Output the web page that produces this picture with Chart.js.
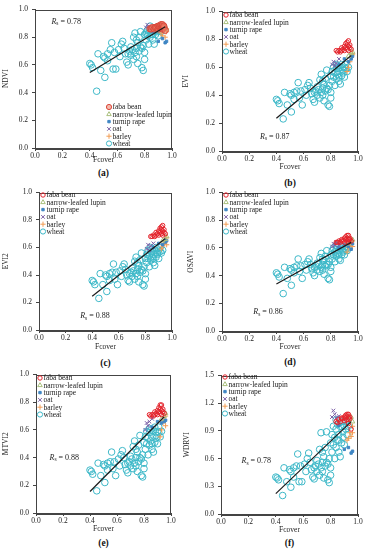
<!DOCTYPE html>
<html>
<head>
<meta charset="utf-8">
<script src="https://cdn.jsdelivr.net/npm/chart.js@4.4.0/dist/chart.umd.min.js"></script>
<style>
  body { margin: 0; background: #fff; width: 365px; height: 550px; position: relative; overflow: hidden;
         font-family: 'Liberation Serif', 'Times New Roman', serif; }
  canvas { position: absolute; }
  .lab { position: absolute; font-weight: bold; font-size: 9.5px; transform: translate(-50%, -50%); color: #111; }
</style>
</head>
<body>
<script>
// wheat samples (shared Fcover, one value per index)
const wheatF = [0.40,0.41,0.42,0.45,0.46,0.48,0.50,0.51,0.51,0.53,0.55,0.56,0.57,0.58,0.59,0.62,0.63,0.64,0.65,0.66,
  0.67,0.68,0.69,0.70,0.70,0.71,0.72,0.72,0.73,0.73,0.74,0.74,0.75,0.75,0.76,0.76,0.77,0.78,0.79,0.79,
  0.80,0.80,0.81,0.81,0.82,0.82,0.83,0.83,0.84,0.84,0.85,0.85,0.86,0.86,0.87,0.87,0.88,0.88,0.89,0.89,
  0.90,0.90,0.91,0.91,0.92,0.93,0.77,0.68,0.61,0.53,0.74,0.78,0.80,0.86,0.84];
const wheatNDVI = [0.61,0.60,0.58,0.41,0.68,0.56,0.66,0.65,0.51,0.63,0.71,0.76,0.57,0.69,0.57,0.66,0.75,0.77,0.72,0.68,
  0.62,0.60,0.70,0.73,0.67,0.71,0.64,0.80,0.69,0.83,0.72,0.66,0.61,0.76,0.80,0.70,0.84,0.58,0.56,0.74,
  0.82,0.69,0.83,0.78,0.85,0.81,0.83,0.75,0.80,0.85,0.82,0.86,0.78,0.84,0.75,0.86,0.82,0.87,0.85,0.84,
  0.86,0.81,0.85,0.87,0.84,0.86,0.73,0.68,0.71,0.68,0.78,0.72,0.64,0.82,0.88];
const wheatEVI = [0.37,0.36,0.34,0.23,0.42,0.33,0.41,0.40,0.28,0.37,0.43,0.49,0.38,0.43,0.33,0.40,0.47,0.49,0.45,0.41,
  0.37,0.35,0.43,0.46,0.40,0.44,0.38,0.51,0.42,0.55,0.45,0.40,0.36,0.48,0.52,0.43,0.58,0.33,0.32,0.47,
  0.54,0.42,0.57,0.50,0.60,0.53,0.56,0.47,0.52,0.59,0.55,0.61,0.50,0.57,0.48,0.60,0.54,0.62,0.58,0.56,
  0.60,0.53,0.59,0.62,0.57,0.60,0.45,0.42,0.44,0.42,0.50,0.44,0.38,0.53,0.62];
const wheatEVI2 = [0.36,0.35,0.33,0.23,0.41,0.33,0.40,0.39,0.28,0.36,0.42,0.48,0.37,0.42,0.33,0.39,0.46,0.48,0.44,0.40,
  0.36,0.35,0.42,0.45,0.39,0.43,0.37,0.50,0.41,0.53,0.44,0.39,0.35,0.47,0.51,0.42,0.56,0.33,0.32,0.46,
  0.52,0.41,0.55,0.49,0.58,0.52,0.54,0.46,0.51,0.57,0.53,0.59,0.49,0.55,0.47,0.58,0.53,0.60,0.56,0.55,
  0.58,0.52,0.57,0.60,0.56,0.58,0.44,0.41,0.43,0.41,0.49,0.43,0.37,0.52,0.60];
const wheatOSAVI = [0.42,0.41,0.39,0.27,0.46,0.38,0.45,0.44,0.33,0.42,0.47,0.52,0.43,0.47,0.38,0.44,0.50,0.52,0.48,0.45,
  0.42,0.40,0.47,0.49,0.44,0.48,0.43,0.53,0.46,0.56,0.48,0.44,0.41,0.51,0.54,0.47,0.58,0.38,0.37,0.50,
  0.55,0.46,0.58,0.52,0.60,0.55,0.57,0.50,0.54,0.59,0.56,0.61,0.52,0.58,0.51,0.60,0.55,0.61,0.58,0.57,
  0.60,0.55,0.59,0.61,0.58,0.60,0.48,0.46,0.48,0.46,0.52,0.48,0.43,0.55,0.62];
const wheatMTVI2 = [0.31,0.30,0.28,0.16,0.36,0.27,0.35,0.34,0.22,0.31,0.37,0.44,0.32,0.37,0.27,0.34,0.42,0.45,0.40,0.35,
  0.31,0.29,0.37,0.41,0.34,0.39,0.32,0.48,0.36,0.52,0.40,0.34,0.30,0.44,0.49,0.37,0.56,0.27,0.26,0.42,
  0.51,0.36,0.55,0.46,0.59,0.50,0.54,0.42,0.49,0.58,0.52,0.60,0.46,0.55,0.44,0.59,0.51,0.62,0.56,0.54,
  0.59,0.50,0.58,0.62,0.55,0.59,0.40,0.36,0.39,0.36,0.46,0.39,0.32,0.50,0.61];
const wheatWDRVI = [0.40,0.39,0.37,0.20,0.50,0.35,0.48,0.46,0.29,0.40,0.52,0.65,0.35,0.52,0.35,0.46,0.60,0.66,0.56,0.48,
  0.40,0.38,0.52,0.58,0.46,0.54,0.42,0.70,0.50,0.88,0.56,0.46,0.39,0.62,0.72,0.52,0.89,0.37,0.34,0.60,
  0.77,0.50,0.86,0.67,0.95,0.75,0.83,0.60,0.72,0.92,0.80,0.97,0.67,0.86,0.62,0.95,0.77,1.00,0.89,0.83,
  0.95,0.75,0.92,1.00,0.86,0.95,0.56,0.50,0.54,0.50,0.67,0.54,0.42,0.80,1.02];

// faba bean
const fabaF = [0.84,0.85,0.86,0.87,0.88,0.88,0.89,0.90,0.90,0.91,0.91,0.92,0.92,0.92,0.93,0.93,0.93,0.94,0.94,0.95];
const fabaNDVI = [0.86,0.86,0.87,0.86,0.87,0.87,0.87,0.86,0.88,0.87,0.88,0.87,0.88,0.89,0.88,0.89,0.86,0.87,0.88,0.85];
const fabaEVI = [0.72,0.71,0.72,0.71,0.72,0.74,0.73,0.72,0.75,0.74,0.77,0.73,0.76,0.78,0.75,0.79,0.72,0.74,0.76,0.73];
const fabaEVI2 = [0.68,0.68,0.69,0.68,0.69,0.71,0.70,0.69,0.72,0.71,0.74,0.70,0.73,0.75,0.72,0.76,0.69,0.71,0.73,0.70];
const fabaOSAVI = [0.64,0.64,0.65,0.64,0.65,0.66,0.65,0.64,0.67,0.66,0.68,0.65,0.67,0.69,0.66,0.69,0.64,0.66,0.67,0.65];
const fabaMTVI2 = [0.71,0.70,0.71,0.70,0.71,0.73,0.72,0.71,0.74,0.73,0.76,0.72,0.75,0.78,0.74,0.78,0.71,0.73,0.75,0.72];
const fabaWDRVI = [1.00,0.99,1.02,1.00,1.03,1.04,1.03,1.01,1.05,1.04,1.07,1.02,1.06,1.08,1.04,1.08,0.98,1.03,1.05,0.92];

// narrow-leafed lupin
const lupinF = [0.93,0.95,0.96];
const lupinNDVI = [0.87,0.88,0.86];
const lupinEVI = [0.68,0.70,0.71];
const lupinEVI2 = [0.65,0.66,0.68];
const lupinOSAVI = [0.63,0.65,0.66];
const lupinMTVI2 = [0.68,0.70,0.72];
const lupinWDRVI = [1.02,1.05,1.00];

// turnip rape
const turnipF = [0.86,0.90,0.93,0.95,0.96];
const turnipNDVI = [0.84,0.77,0.79,0.76,0.77];
const turnipEVI = [0.62,0.66,0.64,0.66,0.68];
const turnipEVI2 = [0.60,0.63,0.62,0.64,0.65];
const turnipOSAVI = [0.60,0.62,0.61,0.59,0.63];
const turnipMTVI2 = [0.62,0.66,0.65,0.66,0.67];
const turnipWDRVI = [0.96,0.70,0.72,0.66,0.68];

// oat
const oatF = [0.81,0.82,0.83,0.84,0.86];
const oatNDVI = [0.87,0.89,0.88,0.86,0.87];
const oatEVI = [0.62,0.64,0.61,0.63,0.66];
const oatEVI2 = [0.59,0.62,0.58,0.61,0.63];
const oatOSAVI = [0.61,0.63,0.62,0.64,0.62];
const oatMTVI2 = [0.60,0.65,0.63,0.66,0.68];
const oatWDRVI = [1.05,1.12,1.08,1.04,1.06];

// barley
const barleyF = [0.92,0.93,0.94,0.95,0.96,0.96];
const barleyNDVI = [0.83,0.81,0.85,0.80,0.84,0.86];
const barleyEVI = [0.57,0.60,0.64,0.67,0.70,0.69];
const barleyEVI2 = [0.59,0.61,0.63,0.64,0.67,0.62];
const barleyOSAVI = [0.57,0.60,0.62,0.63,0.65,0.61];
const barleyMTVI2 = [0.55,0.60,0.65,0.67,0.70,0.63];
const barleyWDRVI = [0.80,0.82,0.88,0.84,0.88,0.95];

// fitted lines (end points)
const lineF = [0.40, 0.95];
const lineNDVI = [0.545, 0.875];
const lineEVI = [0.235, 0.685];
const lineEVI2 = [0.245, 0.665];
const lineOSAVI = [0.34, 0.64];
const lineMTVI2 = [0.155, 0.695];
const lineWDRVI = [0.22, 1.0];

const cropNames = ['faba bean', 'narrow-leafed lupin', 'turnip rape', 'oat', 'barley', 'wheat'];
const cropF = [fabaF, lupinF, turnipF, oatF, barleyF, wheatF];

const panels = [
  { tag: '(a)', title: 'NDVI', rs: '0.78', rsAt: [0.12, 0.91], yMax: 1, yStep: 0.2,
    ys: [fabaNDVI, lupinNDVI, turnipNDVI, oatNDVI, barleyNDVI, wheatNDVI], line: lineNDVI,
    L: 35, R: 172, T: 7, B: 148, xH: 17, yW: 33, leg: [109, 107], labY: 173 },
  { tag: '(b)', title: 'EVI', rs: '0.87', rsAt: [0.28, 0.10], yMax: 1, yStep: 0.2,
    ys: [fabaEVI, lupinEVI, turnipEVI, oatEVI, barleyEVI, wheatEVI], line: lineEVI,
    L: 222, R: 358, T: 9, B: 151, xH: 21, yW: 40, leg: [226, 15], labY: 183 },
  { tag: '(c)', title: 'EVI2', rs: '0.88', rsAt: [0.31, 0.10], yMax: 1, yStep: 0.2,
    ys: [fabaEVI2, lupinEVI2, turnipEVI2, oatEVI2, barleyEVI2, wheatEVI2], line: lineEVI2,
    L: 39, R: 172, T: 190, B: 330, xH: 22, yW: 37, leg: [43, 195], labY: 363 },
  { tag: '(d)', title: 'OSAVI', rs: '0.86', rsAt: [0.23, 0.135], yMax: 1, yStep: 0.2,
    ys: [fabaOSAVI, lupinOSAVI, turnipOSAVI, oatOSAVI, barleyOSAVI, wheatOSAVI], line: lineOSAVI,
    L: 222, R: 358, T: 190, B: 331, xH: 21, yW: 35, leg: [226, 195], labY: 362 },
  { tag: '(e)', title: 'MTVI2', rs: '0.88', rsAt: [0.10, 0.40], yMax: 1, yStep: 0.2,
    ys: [fabaMTVI2, lupinMTVI2, turnipMTVI2, oatMTVI2, barleyMTVI2, wheatMTVI2], line: lineMTVI2,
    L: 36, R: 171, T: 372, B: 513, xH: 21, yW: 34, leg: [40, 378], labY: 543 },
  { tag: '(f)', title: 'WDRVI', rs: '0.78', rsAt: [0.15, 0.57], yMax: 1.5, yStep: 0.3,
    ys: [fabaWDRVI, lupinWDRVI, turnipWDRVI, oatWDRVI, barleyWDRVI, wheatWDRVI], line: lineWDRVI,
    L: 221, R: 358, T: 373, B: 514, xH: 21, yW: 38, leg: [225, 377], labY: 543 }
];

const SERIF = "'Liberation Serif', 'Times New Roman', serif";
const PT = 6, PR = 6;

function cropStyle(i, big) {
  const s = [
    big ? { pointStyle: 'circle', radius: 3.2, borderColor: '#d9473a', backgroundColor: 'rgba(236,128,104,0.55)' }
        : { pointStyle: 'circle', radius: 2.2, borderColor: '#e3232b', backgroundColor: 'rgba(0,0,0,0)' },
    { pointStyle: 'triangle', radius: 2.6, borderColor: '#a9bf7c', backgroundColor: 'rgba(0,0,0,0)' },
    { pointStyle: 'rect', radius: 1.7, borderColor: '#3f86c4', backgroundColor: '#3f86c4' },
    { pointStyle: 'crossRot', radius: 2.6, borderColor: '#7b5fa6', backgroundColor: '#7b5fa6' },
    { pointStyle: 'cross', radius: 2.6, borderColor: '#f29d55', backgroundColor: '#f29d55' },
    { pointStyle: 'circle', radius: 3.3, borderColor: '#3db8c8', backgroundColor: 'rgba(0,0,0,0)' }
  ];
  return s[i];
}

const toPts = (xs, ys) => xs.map((x, i) => ({ x: x, y: ys[i] }));

const extras = {
  id: 'extras',
  afterDraw(chart) {
    const p = chart.options.plugins.extras;
    const { ctx, chartArea: a, scales } = chart;
    ctx.save();
    ctx.strokeStyle = '#444';
    ctx.lineWidth = 1;
    ctx.strokeRect(Math.round(a.left) + 0.5, Math.round(a.top) + 0.5,
      Math.round(a.right - a.left) - 1, Math.round(a.bottom - a.top));

    // R_s label
    ctx.fillStyle = '#222';
    ctx.textBaseline = 'middle';
    let px = scales.x.getPixelForValue(p.rsAt[0]);
    const py = scales.y.getPixelForValue(p.rsAt[1]);
    ctx.font = 'italic 8px ' + SERIF;
    ctx.fillText('R', px, py);
    px += ctx.measureText('R').width;
    ctx.font = '5.5px ' + SERIF;
    ctx.fillText('s', px, py + 2);
    px += ctx.measureText('s').width;
    ctx.font = '8px ' + SERIF;
    ctx.fillText(' = ' + p.rs, px, py);

    // legend inside plot
    const lx = p.leg[0] - p.left, ly = p.leg[1] - p.top;
    cropNames.forEach((name, i) => {
      const st = cropStyle(i, p.big);
      const y = ly + i * 7.3;
      ctx.strokeStyle = st.borderColor;
      ctx.fillStyle = st.backgroundColor;
      ctx.lineWidth = 1;
      Chart.helpers.drawPoint(ctx, { pointStyle: st.pointStyle, radius: Math.min(st.radius, 2.6), borderWidth: 1, rotation: 0 }, lx, y);
      ctx.fillStyle = '#222';
      ctx.font = '7.5px ' + SERIF;
      ctx.fillText(name, lx + 3.5, y + 0.5);
    });
    ctx.restore();
  }
};

panels.forEach((p, k) => {
  const left = p.L - p.yW, top = p.T - PT;
  const w = p.R - p.L + p.yW + PR, h = p.B - p.T + PT + p.xH;
  const cv = document.createElement('canvas');
  cv.width = w; cv.height = h;
  cv.style.left = left + 'px'; cv.style.top = top + 'px';
  cv.style.width = w + 'px'; cv.style.height = h + 'px';
  document.body.appendChild(cv);

  const lab = document.createElement('div');
  lab.className = 'lab';
  lab.textContent = p.tag;
  lab.style.left = ((p.L + p.R) / 2) + 'px';
  lab.style.top = p.labY + 'px';
  document.body.appendChild(lab);

  const datasets = [{
    type: 'line', data: toPts(lineF, p.line), borderColor: '#1a1a1a', borderWidth: 1.2,
    pointRadius: 0, showLine: true, fill: false
  }];
  cropNames.forEach((name, i) => {
    const st = cropStyle(i, k === 0);
    datasets.push({
      label: name, data: toPts(cropF[i], p.ys[i]),
      pointStyle: st.pointStyle, pointRadius: st.radius, pointBorderWidth: 1,
      pointBorderColor: st.borderColor, pointBackgroundColor: st.backgroundColor
    });
  });

  const axisFont = { family: SERIF, size: 7.5 };
  new Chart(cv, {
    type: 'scatter',
    data: { datasets: datasets },
    options: {
      responsive: false, animation: false, devicePixelRatio: 1,
      layout: { padding: { top: PT, right: PR, left: 0, bottom: 0 } },
      plugins: {
        legend: { display: false }, tooltip: { enabled: false },
        extras: { rs: p.rs, rsAt: p.rsAt, leg: p.leg, left: left, top: top, big: k === 0 }
      },
      scales: {
        x: {
          type: 'linear', min: 0, max: 1,
          ticks: { stepSize: 0.2, font: axisFont, color: '#222', padding: 1, maxRotation: 0,
                   callback: v => v.toFixed(1) },
          grid: { drawOnChartArea: false, tickLength: 3, color: '#444' },
          border: { color: '#444' },
          title: { display: true, text: 'Fcover', font: axisFont, color: '#222', padding: 0 },
          afterFit: s => { s.height = p.xH; }
        },
        y: {
          type: 'linear', min: 0, max: p.yMax,
          ticks: { stepSize: p.yStep, font: axisFont, color: '#222', padding: 4,
                   callback: v => v.toFixed(1) },
          grid: { drawOnChartArea: false, tickLength: 3, color: '#444' },
          border: { color: '#444' },
          title: { display: true, text: p.title, font: axisFont, color: '#222', padding: 0 },
          afterFit: s => { s.width = p.yW; }
        }
      }
    },
    plugins: [extras]
  });
});
</script>
</body>
</html>
